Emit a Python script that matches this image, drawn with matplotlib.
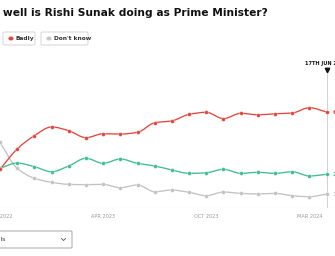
import numpy as np
import matplotlib
matplotlib.use("Agg")
import matplotlib.pyplot as plt
from matplotlib.path import Path
from matplotlib.patches import PathPatch, FancyBboxPatch, Circle

# ---- data (percent) ----
badly = [26.7, 40.7, 49.9, 55.9, 53.3, 48.5, 51.2, 51.0, 52.2, 58.8,
         60.1, 64.6, 66.0, 61.6, 65.3, 64.3, 65.0, 65.5, 69.2, 66.2]
well = [27.4, 31.0, 28.5, 25.0, 29.0, 34.3, 30.8, 33.8, 30.8, 29.0,
        26.2, 23.9, 24.3, 26.7, 23.9, 24.6, 23.9, 25.0, 22.1, 23.2]
dont_know = [45.2, 27.4, 20.5, 17.7, 16.3, 16.1, 16.3, 14.0, 15.9, 11.2,
             12.4, 10.8, 8.5, 11.0, 10.1, 9.7, 10.1, 8.5, 7.8, 9.6]
tick_pos = [0, 6, 12, 18]
tick_labels = ["OCT 2022", "APR 2023", "OCT 2023", "MAR 2024"]
end_labels = ["66%", "23%", "10%"]
marker_label = "17TH JUN 2024"
title = "How well is Rishi Sunak doing as Prime Minister?"
legend_items = ["Well", "Badly", "Don't know"]
dropdown_text = "All polls"

RED = "#e2473d"
GREEN = "#3dbf8c"
GRAY = "#c2c2c2"

W, H = 335, 256
fig = plt.figure(figsize=(W / 100, H / 100), dpi=100)
fig.patch.set_facecolor("white")

def fx(x):
    return x / W

def fy(y):
    return 1 - y / H

step = 17.19
ybot, ytop = 208, 60
ax = fig.add_axes([0, fy(ybot), 1, (ybot - ytop) / H])
ax.set_xlim(0, W / step)
ax.set_ylim(0, (ybot - ytop) / 1.45)
ax.axis("off")

def monotone_path(x, y):
    x = np.asarray(x, float); y = np.asarray(y, float)
    n = len(x)
    h = np.diff(x); d = np.diff(y) / h
    m = np.zeros(n)
    m[0] = d[0]; m[-1] = d[-1]
    for i in range(1, n - 1):
        if d[i - 1] * d[i] <= 0:
            m[i] = 0
        else:
            m[i] = (3 * (h[i-1] + h[i])) / ((2*h[i] + h[i-1]) / d[i-1] + (h[i] + 2*h[i-1]) / d[i])
    verts = [(x[0], y[0])]
    codes = [Path.MOVETO]
    for i in range(n - 1):
        dx = h[i] / 3
        verts += [(x[i] + dx, y[i] + m[i] * dx), (x[i+1] - dx, y[i+1] - m[i+1] * dx), (x[i+1], y[i+1])]
        codes += [Path.CURVE4] * 3
    return Path(verts, codes)

ax.axhline(0, color="#e6e6e6", lw=0.8, zorder=1)
last = len(badly) - 1
ax.axvline(last, ymin=0, ymax=(ybot - 71) / (ybot - ytop), color="#d0d0d0", lw=0.7, zorder=1)
ax.plot([last], [(ybot - 70.5) / 1.45], marker="v", color="#111111", ms=3.2, clip_on=False, zorder=5)
ax.text(last, (ybot - 64) / 1.45, marker_label, ha="center", va="center",
        fontsize=3.6, fontweight="bold", color="#111111", clip_on=False)

xs = np.arange(len(badly))
for vals, col, lab in [(dont_know, GRAY, end_labels[2]), (well, GREEN, end_labels[1]), (badly, RED, end_labels[0])]:
    ax.add_patch(PathPatch(monotone_path(xs, vals), fill=False, edgecolor=col, lw=0.95, zorder=3))
    ax.plot(xs, vals, ls="none", marker="o", ms=2.8, color=col, mec="white", mew=0.25, zorder=4)
    ax.text(last + 0.33, vals[-1], lab, ha="left", va="center", fontsize=4.5,
            fontweight="bold", color=col, clip_on=False)

for p, t in zip(tick_pos, tick_labels):
    ax.text(p, -(216 - ybot) / 1.45, t, ha="center", va="center", fontsize=3.6, color="#9a9a9a", clip_on=False)

# title fitted so that the visible part spans pixels 3..268
TFONT = "DejaVu Sans"
renderer = fig.canvas.get_renderer()
vis = title.split(" ", 1)[1]
tt = fig.text(0, 0, vis, fontsize=10, fontweight="bold", family=TFONT)
wpx = tt.get_window_extent(renderer).width
tt.remove()
fs = 10 * (268 - 3) / wpx
full = fig.text(0, 0, title, fontsize=fs, fontweight="bold", family=TFONT)
wfull = full.get_window_extent(renderer).width
full.remove()
fig.text(fx(268 - wfull), fy(13), title, fontsize=fs, fontweight="bold",
         family=TFONT, color="#111111", ha="left", va="center")

def button(x0, x1, dotcol, text):
    fig.patches.append(FancyBboxPatch((fx(x0), fy(45)), fx(x1 - x0), (45 - 32) / H,
                                      boxstyle="round,pad=0,rounding_size=0.004",
                                      transform=fig.transFigure, fc="white", ec="#cfcfcf", lw=0.6))
    fig.patches.append(Circle((fx(x0 + 8), fy(38.5)), 2.6 / W, transform=fig.transFigure,
                              fc=dotcol, ec="none"))
    fig.text(fx(x0 + 13), fy(38.5), text, fontsize=4.2, fontweight="bold", color="#333333",
             ha="left", va="center")

button(3, 35, RED, legend_items[1])
button(41, 88, "#c8c8c8", legend_items[2])

fig.patches.append(FancyBboxPatch((fx(-2), fy(248)), fx(74), (248 - 231) / H,
                                  boxstyle="round,pad=0,rounding_size=0.003",
                                  transform=fig.transFigure, fc="white", ec="#9a9a9a", lw=0.6))
fig.text(fx(5), fy(239.5), dropdown_text, fontsize=4.5, color="#333333", ha="right", va="center")
fig.lines.append(plt.Line2D([fx(61.5), fx(63.5), fx(65.5)], [fy(238.5), fy(240.5), fy(238.5)],
                            transform=fig.transFigure, color="#555555", lw=0.6))

fig.savefig("out.png", dpi=100, facecolor="white")
